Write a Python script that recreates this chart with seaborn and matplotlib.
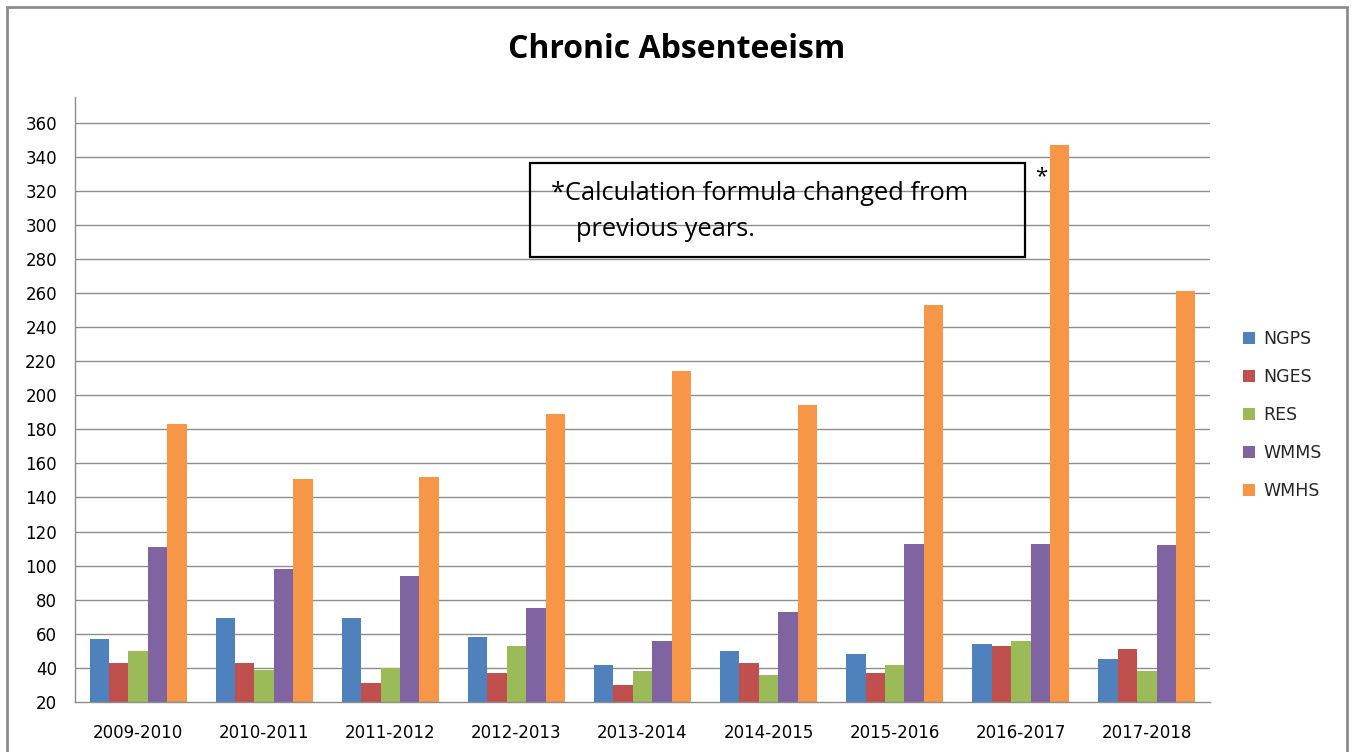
import matplotlib
matplotlib.use("Agg")
import matplotlib.pyplot as plt
import seaborn as sns
import pandas as pd
from matplotlib.patches import Rectangle

years = ["2009-2010", "2010-2011", "2011-2012", "2012-2013", "2013-2014",
         "2014-2015", "2015-2016", "2016-2017", "2017-2018"]
schools = ["NGPS", "NGES", "RES", "WMMS", "WMHS"]
ngps = [57, 69, 69, 58, 42, 50, 48, 54, 45]
nges = [43, 43, 31, 37, 30, 43, 37, 53, 51]
res = [50, 39, 40, 53, 38, 36, 42, 56, 38]
wmms = [111, 98, 94, 75, 56, 73, 113, 113, 112]
wmhs = [183, 151, 152, 189, 214, 194, 253, 347, 261]
colors = ["#4F81BD", "#C0504D", "#9BBB59", "#8064A2", "#F79646"]

series = [ngps, nges, res, wmms, wmhs]
rows = []
for s, vals in zip(schools, series):
    for y, v in zip(years, vals):
        rows.append({"Year": y, "School": s, "Value": v})
df = pd.DataFrame(rows)

sns.set_style("white")
plt.rcParams['font.family'] = ['DejaVu Sans']

fig = plt.figure(figsize=(13.54, 7.52), dpi=100)
ax = fig.add_axes([75/1354, 1-702/752, (1210-75)/1354, (702-97)/752])

sns.barplot(data=df, x="Year", y="Value", hue="School", palette=colors,
            hue_order=schools, order=years, width=0.77, saturation=1,
            ax=ax, edgecolor="none", linewidth=0)

ax.set_ylim(20, 375)
ax.set_xlim(-0.5, len(years) - 0.5)
ax.set_yticks(range(20, 361, 20))
ax.tick_params(axis='y', labelsize=12, length=0, pad=13, colors="#000000")
ax.tick_params(axis='x', labelsize=12, length=0, pad=16, colors="#000000")
ax.set_xlabel("")
ax.set_ylabel("")
for yv in range(40, 361, 20):
    ax.axhline(yv, color="#8c8c8c", linewidth=1, zorder=0)
ax.set_axisbelow(True)
for side in ["top", "right"]:
    ax.spines[side].set_visible(False)
ax.spines["left"].set_color("#8c8c8c")
ax.spines["bottom"].set_color("#8c8c8c")
ax.spines["left"].set_linewidth(1)
ax.spines["bottom"].set_linewidth(1)
ax.set_xticks(range(len(years)), minor=False)
ax.set_xticks([i - 0.5 for i in range(len(years) + 1)], minor=True)
ax.tick_params(axis='x', which='minor', length=6, color="#8c8c8c", direction='out')

leg = ax.legend(loc="center left", bbox_to_anchor=(1.015, 0.474), frameon=False,
                fontsize=12.5, handlelength=0.7, handleheight=0.7, labelspacing=1.15,
                handletextpad=0.5)

fig.text(0.5, 1-50/752, "Chronic Absenteeism", ha="center", va="center",
         fontsize=23, fontweight="bold", family=["Open Sans", "DejaVu Sans"],
         color="black")

fig.patches.append(Rectangle((530/1354, 1-257/752), (1025-530)/1354, (257-163)/752,
                             transform=fig.transFigure, fill=False, edgecolor="black",
                             linewidth=1.6))
fig.text(551/1354, 1-193/752, "*Calculation formula changed from", fontsize=18.3,
         va="center", ha="left", family=["Open Sans", "DejaVu Sans"], color="black")
fig.text(576/1354, 1-229/752, "previous years.", fontsize=18.3, va="center", ha="left",
         family=["Open Sans", "DejaVu Sans"], color="black")
fig.text(1041/1354, 1-177/752, "*", fontsize=16, va="center", ha="center",
         family=["Open Sans", "DejaVu Sans"], color="black")

fig.patches.append(Rectangle((7/1354, -0.01), (1347-7)/1354, 1.0 - 7/752 + 0.01,
                             transform=fig.transFigure, fill=False, edgecolor="#8c8c8c",
                             linewidth=2))

fig.savefig("out.png", dpi=100)
